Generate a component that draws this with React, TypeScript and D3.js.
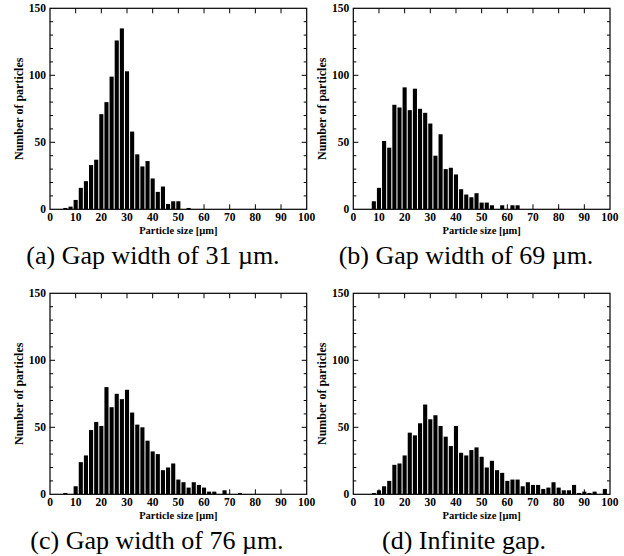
import * as d3 from "d3";

// particle size bins (µm), bin centres
const sizes = [6, 8, 10, 12, 14, 16, 18, 20, 22, 24, 26, 28, 30, 32, 34, 36, 38, 40, 42, 44, 46, 48, 50, 52, 54, 56, 58, 60, 62, 64, 66, 68, 70, 72, 74, 76, 78, 80, 82, 84, 86, 88, 90, 92, 94, 96, 98];

const gap31 = [1, 2, 7, 16, 21, 33, 37, 71, 80, 99, 126, 135, 103, 58, 41, 32, 36, 23, 13, 17, 4, 6, 6, 0, 1, 0, 0, 0, 0, 0, 0, 0, 0, 0, 0, 0, 0, 0, 0, 0, 0, 0, 0, 0, 0, 0, 0];
const gap69 = [0, 6, 16, 51, 46, 78, 76, 91, 74, 90, 75, 72, 64, 40, 56, 30, 31, 26, 15, 11, 9, 12, 5, 5, 3, 0, 3, 0, 3, 3, 0, 0, 0, 0, 0, 0, 0, 0, 0, 0, 0, 0, 0, 0, 0, 0, 0];
const gap76 = [1, 0, 6, 24, 29, 48, 54, 51, 80, 65, 75, 71, 78, 61, 52, 50, 40, 32, 30, 18, 20, 23, 11, 9, 5, 9, 7, 5, 2, 2, 0, 3, 0, 0, 1, 0, 0, 0, 0, 0, 0, 0, 0, 0, 0, 0, 0];
const gapInf = [0, 1, 3, 6, 10, 22, 23, 29, 46, 44, 53, 67, 56, 59, 51, 43, 36, 51, 31, 29, 33, 35, 28, 20, 25, 18, 16, 10, 11, 11, 6, 9, 7, 7, 4, 5, 9, 5, 3, 3, 7, 1, 2, 1, 2, 0, 4];

const xTicks = [0, 10, 20, 30, 40, 50, 60, 70, 80, 90, 100];
const yTicks = [0, 50, 100, 150];
const yMinor = [10, 20, 30, 40, 60, 70, 80, 90, 110, 120, 130, 140];

const captions = [
  "(a) Gap width of 31 µm.",
  "(b) Gap width of 69 µm.",
  "(c) Gap width of 76 µm.",
  "(d) Infinite gap.",
];

const W = 256.7;
const H = 201;
const labelFont = "'Liberation Serif', 'Times New Roman', serif";

function Panel({ values, left, top }: { values: number[]; left: number; top: number }) {
  const x = d3.scaleLinear().domain([0, 100]).range([0, W]);
  const y = d3.scaleLinear().domain([0, 150]).range([H, 0]);
  const barW = x(1.6) - x(0);
  return (
    <g transform={`translate(${left},${top})`}>
      {values.map((v, i) =>
        v > 0 ? (
          <rect key={i} x={x(sizes[i]) - barW / 2} y={y(v)} width={barW} height={H - y(v)} fill="#000" />
        ) : null
      )}
      {/* inward ticks on all four sides */}
      {xTicks.slice(1, -1).map((t) => (
        <g key={"xt" + t}>
          <line x1={x(t)} x2={x(t)} y1={H} y2={H - 5} stroke="#000" strokeWidth={1} />
          <line x1={x(t)} x2={x(t)} y1={0} y2={5} stroke="#000" strokeWidth={1} />
        </g>
      ))}
      {yTicks.slice(1, -1).map((t) => (
        <g key={"yt" + t}>
          <line x1={0} x2={5} y1={y(t)} y2={y(t)} stroke="#000" strokeWidth={1} />
          <line x1={W} x2={W - 5} y1={y(t)} y2={y(t)} stroke="#000" strokeWidth={1} />
        </g>
      ))}
      {yMinor.map((t) => (
        <g key={"ym" + t}>
          <line x1={0} x2={3} y1={y(t)} y2={y(t)} stroke="#000" strokeWidth={1} />
          <line x1={W} x2={W - 3} y1={y(t)} y2={y(t)} stroke="#000" strokeWidth={1} />
        </g>
      ))}
      <rect x={0} y={0} width={W} height={H} fill="none" stroke="#000" strokeWidth={1.2} />
      {xTicks.map((t) => (
        <text key={"xl" + t} x={x(t)} y={H + 12} textAnchor="middle" fontSize={11.5} fontWeight="bold" fontFamily={labelFont}>
          {t}
        </text>
      ))}
      {yTicks.map((t) => (
        <text key={"yl" + t} x={-4} y={y(t) + 4} textAnchor="end" fontSize={11.5} fontWeight="bold" fontFamily={labelFont}>
          {t}
        </text>
      ))}
      <text x={W / 2} y={H + 25} textAnchor="middle" fontSize={10.5} fontWeight="bold" fontFamily={labelFont}>
        Particle size [µm]
      </text>
      <text transform={`translate(-27,${H / 2}) rotate(-90)`} textAnchor="middle" fontSize={12} fontWeight="bold" fontFamily={labelFont}>
        Number of particles
      </text>
    </g>
  );
}

export default function App() {
  const series = [gap31, gap69, gap76, gapInf];
  const lefts = [50, 353.3, 50, 353.3];
  const tops = [8.3, 8.3, 293.3, 293.3];
  const capX = [153, 466, 157, 464];
  const capY = [264, 264, 549, 549];
  return (
    <svg width={624} height={556} style={{ position: "absolute", left: 0, top: 0, background: "#fff" }}>
      {series.map((s, i) => (
        <Panel key={i} values={s} left={lefts[i]} top={tops[i]} />
      ))}
      {captions.map((c, i) => (
        <text key={c} x={capX[i]} y={capY[i]} textAnchor="middle" fontSize={26} fontFamily={labelFont}>
          {c}
        </text>
      ))}
    </svg>
  );
}
